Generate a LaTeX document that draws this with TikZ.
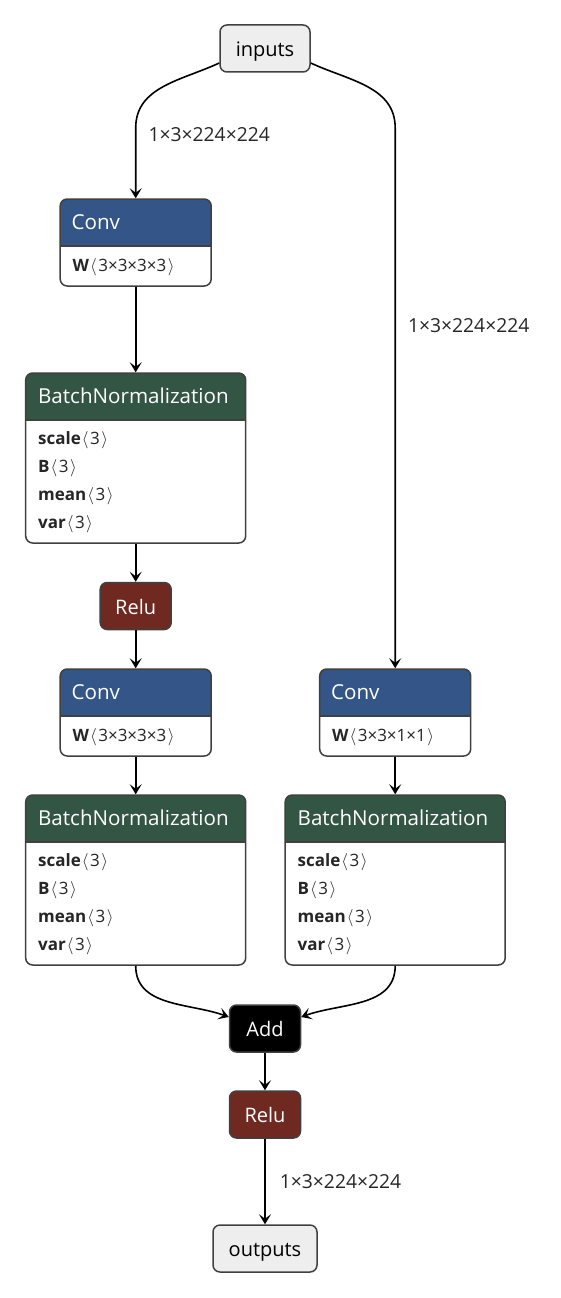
\documentclass[tikz,border=0pt]{standalone}
\usepackage{fontspec}
\setmainfont{Open Sans}
\usepackage{tikz}
\usetikzlibrary{arrows.meta}

\definecolor{convc}{RGB}{51,85,136}
\definecolor{normc}{RGB}{51,85,68}
\definecolor{actc}{RGB}{112,41,33}
\definecolor{ioc}{RGB}{238,238,238}
\definecolor{bordc}{RGB}{64,64,64}
\newcommand{\dims}[1]{\kern1pt$\langle$\kern1.5pt#1\kern1.5pt$\rangle$}

\begin{document}
\begin{tikzpicture}[x=1pt,y=-1pt]
        \tikzset{
        box/.style={draw=bordc, line width=1.5pt, rounded corners=7pt, inner sep=0pt},
        io/.style={box, fill=ioc, minimum height=47pt, text height=20pt, text depth=4pt,
        font=\fontsize{20}{24}\selectfont},
        op/.style={box, fill=#1, text=white, minimum width=71pt, minimum height=47pt,
        text height=20pt, text depth=4pt, font=\fontsize{20}{24}\selectfont},
        layer/.style={box, fill=white, path picture={
        \fill[#1, sharp corners] (path picture bounding box.north west) rectangle
        ([yshift=-47pt]path picture bounding box.north east);
        \draw[bordc, line width=1.5pt, sharp corners] ([yshift=-47pt]path picture bounding box.north west) --
        ([yshift=-47pt]path picture bounding box.north east);}},
        conv/.style={layer=convc, minimum width=151pt, minimum height=87pt},
        norm/.style={layer=normc, minimum width=220pt, minimum height=170pt},
        title/.style={anchor=west, text=white, inner sep=0pt, font=\fontsize{20.6}{24}\selectfont},
        attr/.style={anchor=west, inner sep=0pt, text=black!85, font=\fontsize{17}{20}\selectfont},
        edge/.style={-{Stealth[length=10pt, width=12pt, inset=4.5pt]}, line width=1.6pt},
        dimlab/.style={anchor=west, xshift=12pt, inner sep=0pt, text=black!85,
        font=\fontsize{19.3}{22}\selectfont}
        }
        \useasboundingbox (0,0) rectangle (560,1298);

        \node[io, minimum width=90pt] (inputs) at (265,48.5) {inputs};

        \node[conv] (conv1) at (135.7,242.5) {};
        \node[title] (conv1-t) at ([xshift=12pt,yshift=-24pt]conv1.north west) {Conv};
        \node[attr] (conv1-w) at ([xshift=13pt,yshift=-69pt]conv1.north west) {\textbf{W}\dims{3×3×3×3}};

        \node[norm] (bn1) at (135.7,458) {};
        \node[title] (bn1-t) at ([xshift=13pt,yshift=-24pt]bn1.north west) {BatchNormalization};
        \node[attr] (bn1-scale) at ([xshift=13pt,yshift=-68pt]bn1.north west) {\textbf{scale}\dims{3}};
        \node[attr] (bn1-b) at ([xshift=13pt,yshift=-96pt]bn1.north west) {\textbf{B}\dims{3}};
        \node[attr] (bn1-mean) at ([xshift=13pt,yshift=-124pt]bn1.north west) {\textbf{mean}\dims{3}};
        \node[attr] (bn1-var) at ([xshift=13pt,yshift=-152pt]bn1.north west) {\textbf{var}\dims{3}};

        \node[op=actc] (relu1) at (135.7,606) {Relu};

        \node[conv] (conv2) at (135.7,712.5) {};
        \node[title] (conv2-t) at ([xshift=12pt,yshift=-24pt]conv2.north west) {Conv};
        \node[attr] (conv2-w) at ([xshift=13pt,yshift=-69pt]conv2.north west) {\textbf{W}\dims{3×3×3×3}};

        \node[conv] (conv3) at (395.2,712.5) {};
        \node[title] (conv3-t) at ([xshift=12pt,yshift=-24pt]conv3.north west) {Conv};
        \node[attr] (conv3-w) at ([xshift=13pt,yshift=-69pt]conv3.north west) {\textbf{W}\dims{3×3×1×1}};

        \node[norm] (bn2) at (135.7,880) {};
        \node[title] (bn2-t) at ([xshift=13pt,yshift=-24pt]bn2.north west) {BatchNormalization};
        \node[attr] (bn2-scale) at ([xshift=13pt,yshift=-68pt]bn2.north west) {\textbf{scale}\dims{3}};
        \node[attr] (bn2-b) at ([xshift=13pt,yshift=-96pt]bn2.north west) {\textbf{B}\dims{3}};
        \node[attr] (bn2-mean) at ([xshift=13pt,yshift=-124pt]bn2.north west) {\textbf{mean}\dims{3}};
        \node[attr] (bn2-var) at ([xshift=13pt,yshift=-152pt]bn2.north west) {\textbf{var}\dims{3}};

        \node[norm] (bn3) at (395.2,880) {};
        \node[title] (bn3-t) at ([xshift=13pt,yshift=-24pt]bn3.north west) {BatchNormalization};
        \node[attr] (bn3-scale) at ([xshift=13pt,yshift=-68pt]bn3.north west) {\textbf{scale}\dims{3}};
        \node[attr] (bn3-b) at ([xshift=13pt,yshift=-96pt]bn3.north west) {\textbf{B}\dims{3}};
        \node[attr] (bn3-mean) at ([xshift=13pt,yshift=-124pt]bn3.north west) {\textbf{mean}\dims{3}};
        \node[attr] (bn3-var) at ([xshift=13pt,yshift=-152pt]bn3.north west) {\textbf{var}\dims{3}};

        \node[op=black] (add) at (265,1028.5) {Add};
        \node[op=actc] (relu2) at (265,1114.5) {Relu};
        \node[io, minimum width=104pt] (outputs) at (265,1248.5) {outputs};

        \draw[edge] ([yshift=-14.5pt]inputs.west) to[out=205,in=90] (conv1.north |- 0,128)
        -- node[dimlab, pos=0.1] (lab1) {1×3×224×224} (conv1.north);
        \draw[edge] ([yshift=-14.5pt]inputs.east) to[out=-25,in=90] (conv3.north |- 0,128)
        -- node[dimlab, pos=0.365] (lab2) {1×3×224×224} (conv3.north);
        \draw[edge] (conv1) -- (bn1);
        \draw[edge] (bn1) -- (relu1);
        \draw[edge] (relu1) -- (conv2);
        \draw[edge] (conv2) -- (bn2);
        \draw[edge] (conv3) -- (bn3);
        \draw[edge] (bn2.south) to[out=-90,in=160] ([yshift=11.5pt]add.west);
        \draw[edge] (bn3.south) to[out=-90,in=20] ([yshift=11.5pt]add.east);
        \draw[edge] (add) -- (relu2);
        \draw[edge] (relu2) -- node[dimlab, xshift=2pt] (lab3) {1×3×224×224} (outputs);
        \end{tikzpicture}
\end{document}
